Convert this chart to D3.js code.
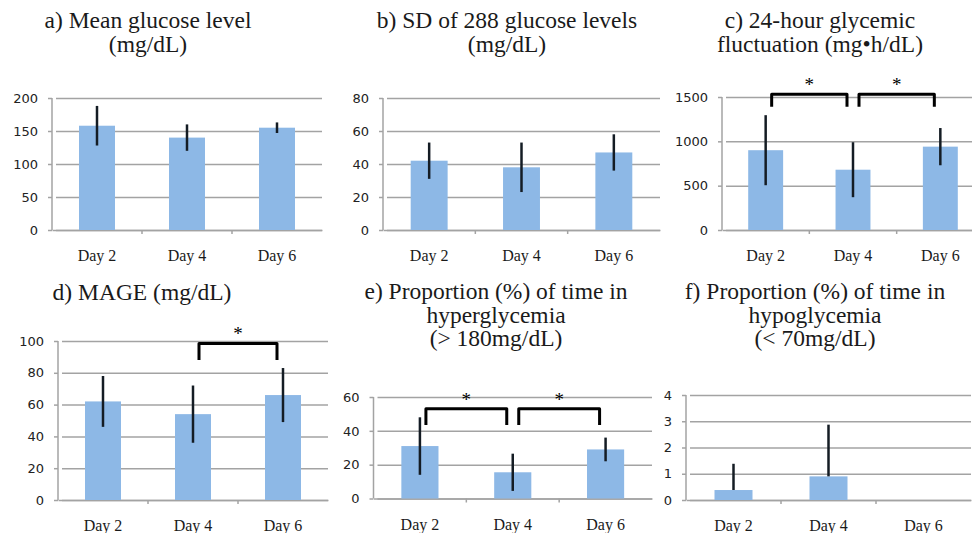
<!DOCTYPE html>
<html>
<head>
<meta charset="utf-8">
<title>Glucose panels</title>
<style>
  body { margin: 0; background: #fff; }
  svg { display: block; }
</style>
</head>
<body>
<script src="https://cdn.jsdelivr.net/npm/d3@7"></script>
<script>

// data
var days = ["Day 2", "Day 4", "Day 6"];

var meanGlucose   = [158, 140, 155],  meanGlucoseSD = [30, 20, 8];
var sdGlucose     = [42, 38, 47],     sdGlucoseSD   = [11, 15, 11];
var fluctuation   = [900, 680, 940],  fluctuationSD = [395, 310, 210];
var mage          = [62, 54, 66],     mageSD        = [16, 18, 17];
var hyperTime     = [31, 15.5, 29],   hyperTimeSD   = [17, 11, 7];
var hypoTime      = [0.38, 0.9, 0],   hypoTimeSD    = [1.0, 1.97, 0];

var ticksA = [0, 50, 100, 150, 200];
var ticksB = [0, 20, 40, 60, 80];
var ticksC = [0, 500, 1000, 1500];
var ticksD = [0, 20, 40, 60, 80, 100];
var ticksE = [0, 20, 40, 60];
var ticksF = [0, 1, 2, 3, 4];

var bracketsC = [["Day 2", "Day 4"], ["Day 4", "Day 6"]];
var bracketsD = [["Day 4", "Day 6"]];
var bracketsE = [["Day 2", "Day 4"], ["Day 4", "Day 6"]];

var titleA = ["a) Mean glucose level", "(mg/dL)"];
var titleB = ["b) SD of 288 glucose levels", "(mg/dL)"];
var titleC = ["c) 24-hour glycemic", "fluctuation (mg\u2022h/dL)"];
var titleD = ["d) MAGE (mg/dL)"];
var titleE = ["e) Proportion (%) of time in", "hyperglycemia", "(> 180mg/dL)"];
var titleF = ["f) Proportion (%) of time in", "hypoglycemia", "(< 70mg/dL)"];

// layout of each panel
var panels = [
  {mean: meanGlucose, sd: meanGlucoseSD, ticks: ticksA, title: titleA, brackets: [],
   x0: 52, x1: 322, top: 98, bottom: 230, tx: 148, ty: 28},
  {mean: sdGlucose, sd: sdGlucoseSD, ticks: ticksB, title: titleB, brackets: [],
   x0: 383, x1: 660, top: 98, bottom: 230, tx: 507, ty: 28},
  {mean: fluctuation, sd: fluctuationSD, ticks: ticksC, title: titleC, brackets: bracketsC,
   x0: 722, x1: 984, top: 97, bottom: 230, tx: 820, ty: 28, bTop: 1530, bLeg: 1390},
  {mean: mage, sd: mageSD, ticks: ticksD, title: titleD, brackets: bracketsD,
   x0: 58, x1: 328, top: 341, bottom: 500, tx: 142, ty: 300, bTop: 98.5, bLeg: 88},
  {mean: hyperTime, sd: hyperTimeSD, ticks: ticksE, title: titleE, brackets: bracketsE,
   x0: 373.5, x1: 652, top: 397, bottom: 498.5, tx: 496, ty: 299, bTop: 53, bLeg: 43.5},
  {mean: hypoTime, sd: hypoTimeSD, ticks: ticksF, title: titleF, brackets: [],
   x0: 686, x1: 971, top: 395, bottom: 500, tx: 815, ty: 299, upperOnly: true}
];

var svg = d3.select("body").append("svg")
  .attr("width", 972)
  .attr("height", 533);

var serif = "'Liberation Serif', 'Times New Roman', serif";
var sans = "'DejaVu Sans', Verdana, sans-serif";

panels.forEach(function(p){

  var g = svg.append("g");

  var x = d3.scaleBand()
    .domain(days)
    .range([p.x0, p.x1])
    .padding(0);

  var y = d3.scaleLinear()
    .domain([0, d3.max(p.ticks)])
    .range([p.bottom, p.top]);

  // gridlines + y labels
  var yAxis = g.append("g")
    .attr("transform", "translate(" + p.x0 + ",0)")
    .call(d3.axisLeft(y).tickValues(p.ticks).tickSize(-(p.x1 - p.x0)).tickPadding(14).tickFormat(d3.format("d")));
  yAxis.select(".domain").remove();
  yAxis.selectAll(".tick line")
    .attr("x1", 4)
    .attr("stroke", "#a3a3a3")
    .attr("stroke-width", 1.5);
  // little outward tick
  yAxis.selectAll(".tick").append("line")
    .attr("x1", -4).attr("x2", 0)
    .attr("stroke", "#a3a3a3").attr("stroke-width", 1.5);
  yAxis.selectAll(".tick text")
    .style("font-family", sans)
    .style("font-size", "13px")
    .attr("fill", "#222");

  // left axis line
  g.append("line")
    .attr("x1", p.x0).attr("x2", p.x0)
    .attr("y1", y(0)).attr("y2", y(d3.max(p.ticks)))
    .attr("stroke", "#a3a3a3").attr("stroke-width", 1.5);

  // x axis with ticks at category boundaries
  var xAxis = g.append("g")
    .attr("transform", "translate(0," + p.bottom + ")")
    .call(d3.axisBottom(x).tickSize(0).tickPadding(20));
  xAxis.select(".domain")
    .attr("stroke", "#a3a3a3").attr("stroke-width", 1.5);
  xAxis.selectAll(".tick text")
    .style("font-family", serif)
    .style("font-size", "16px")
    .attr("fill", "#1a1a1a");

  g.selectAll("line.xtick")
    .data(days.slice(1))
    .enter().append("line")
    .attr("class", "xtick")
    .attr("x1", function(d){ return x(d); })
    .attr("x2", function(d){ return x(d); })
    .attr("y1", p.bottom).attr("y2", p.bottom + 4)
    .attr("stroke", "#a3a3a3").attr("stroke-width", 1.5);

  var barW = x.bandwidth() * 0.4;
  var cx = function(i){ return x(days[i]) + x.bandwidth() / 2; };

  // bars
  g.selectAll("rect.bar")
    .data(p.mean)
    .enter().append("rect")
    .attr("class", "bar")
    .attr("x", function(d, i){ return cx(i) - barW / 2; })
    .attr("y", function(d){ return y(d); })
    .attr("width", barW)
    .attr("height", function(d){ return y(0) - y(d); })
    .attr("fill", "#8db8e6");

  // error bars
  g.selectAll("line.err")
    .data(p.mean)
    .enter().append("line")
    .attr("class", "err")
    .filter(function(d, i){ return p.sd[i] > 0; })
    .attr("x1", function(d, i){ return cx(i); })
    .attr("x2", function(d, i){ return cx(i); })
    .attr("y1", function(d, i){ return y(d + p.sd[i]); })
    .attr("y2", function(d, i){ return p.upperOnly ? y(d) : y(Math.max(0, d - p.sd[i])); })
    .attr("stroke", "#141c24")
    .attr("stroke-width", 2.5);

  // significance brackets
  var inset = 6;
  p.brackets.forEach(function(b){
    var xa = x(b[0]) + x.bandwidth() / 2 + inset,
        xb = x(b[1]) + x.bandwidth() / 2 - inset;
    g.append("path")
      .attr("d", "M" + xa + "," + y(p.bLeg) + "V" + y(p.bTop) + "H" + xb + "V" + y(p.bLeg))
      .attr("fill", "none")
      .attr("stroke", "#000")
      .attr("stroke-width", 3)
      .attr("stroke-linejoin", "round");
    g.append("text")
      .attr("x", (xa + xb) / 2)
      .attr("y", y(p.bTop) - 3)
      .attr("text-anchor", "middle")
      .style("font-family", serif)
      .style("font-size", "19px")
      .text("*");
  });

  // title
  g.selectAll("text.title")
    .data(p.title)
    .enter().append("text")
    .attr("class", "title")
    .attr("x", p.tx)
    .attr("y", function(d, i){ return p.ty + i * 23.5; })
    .attr("text-anchor", "middle")
    .style("font-family", serif)
    .style("font-size", "23.5px")
    .attr("fill", "#1a1a1a")
    .text(function(d){ return d; });
});

</script>
</body>
</html>
